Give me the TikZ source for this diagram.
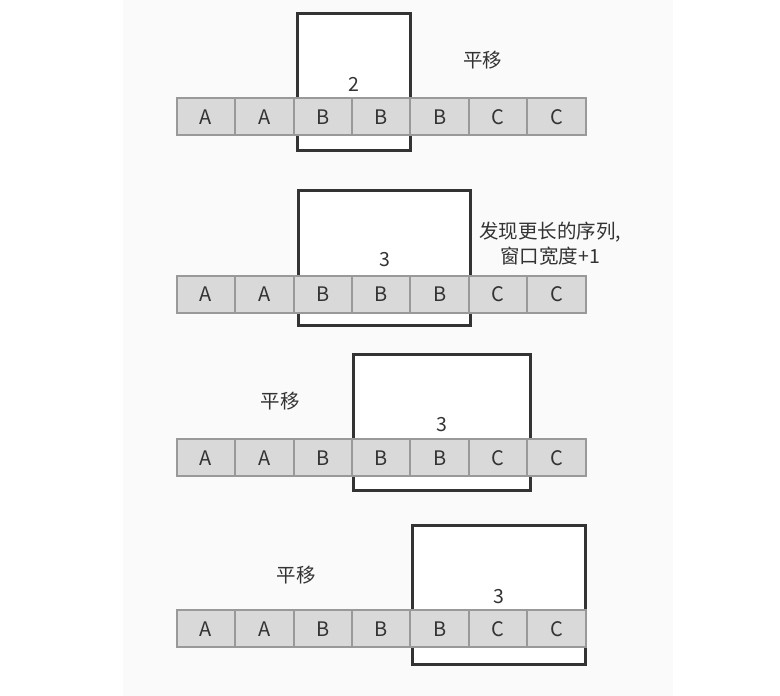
\documentclass[tikz,border=0pt]{standalone}
\usepackage{fontspec}
\setmainfont{Noto Sans CJK SC}
\definecolor{panel}{HTML}{FAFAFA}
\definecolor{cellfill}{HTML}{D9D9D9}
\definecolor{cellborder}{HTML}{999999}
\definecolor{winborder}{HTML}{333333}
\definecolor{txt}{HTML}{333333}
\tikzset{
  cell/.style={draw=cellborder, fill=cellfill, line width=2pt, minimum width=58.43pt,
    minimum height=37pt, inner sep=0pt, outer sep=0pt, anchor=north west,
    text=txt, font=\fontsize{20}{20}\selectfont},
  win/.style={draw=winborder, fill=white, line width=3pt, inner sep=0pt, outer sep=0pt,
    anchor=north west},
  lbl/.style={text=txt, inner sep=0pt, font=\fontsize{19.5}{25}\selectfont}
}
\begin{document}
\begin{tikzpicture}[x=1pt,y=-1pt]
\useasboundingbox (0,0) rectangle (780,696);
\fill[panel] (123,0) rectangle (673,696);
% windows
\node[win, minimum width=112.7pt, minimum height=137.3pt] (w1) at (297.5,13.2) {};
\node[win, minimum width=172pt, minimum height=134.4pt] (w2) at (298.8,190.8) {};
\node[win, minimum width=177.6pt, minimum height=136pt] (w3) at (353.2,354.2) {};
\node[win, minimum width=173pt, minimum height=139pt] (w4) at (412.2,525.5) {};
% cells
\foreach \l [count=\i] in {A,A,B,B,B,C,C} {
  \node[cell] (ra\i) at ({176.7+(\i-1)*58.43}, 98.3) {\l};
  \node[cell] (rb\i) at ({176.7+(\i-1)*58.43}, 276) {\l};
  \node[cell] (rc\i) at ({176.7+(\i-1)*58.43}, 439.3) {\l};
  \node[cell] (rd\i) at ({176.7+(\i-1)*58.43}, 610.3) {\l};
}
% numbers
\node[lbl] (n1) at (354,84.5) {2};
\node[lbl] (n2) at (385,260) {3};
\node[lbl] (n3) at (442,424.3) {3};
\node[lbl] (n4) at (499,597) {3};
% texts
\node[lbl] (t1) at (482.5,60.5) {平移};
\node[lbl, align=center] (t2) at (550,243.5) {发现更长的序列,\\窗口宽度+1};
\node[lbl] (t3) at (280,401.5) {平移};
\node[lbl] (t4) at (296,575) {平移};
\end{tikzpicture}
\end{document}
